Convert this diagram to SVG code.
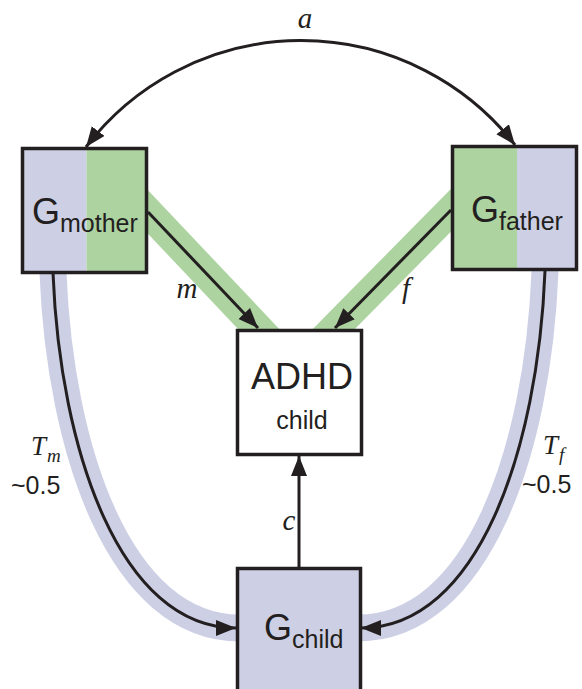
<svg xmlns="http://www.w3.org/2000/svg" width="582" height="689" viewBox="0 0 582 689">
<style>
.box{stroke:#231F20;stroke-width:3.5}
.conn{fill:none;stroke:#231F20;stroke-width:3}
.gband{fill:none;stroke:#ADD3A0;stroke-width:30}
.bband{fill:none;stroke:#CDD0E5;stroke-width:27}
.big{font-family:"Liberation Sans",Arial,sans-serif;font-size:36px;fill:#231F20}
.sub{font-family:"Liberation Sans",Arial,sans-serif;font-size:25px;fill:#231F20}
.it{font-family:"Liberation Serif","Times New Roman",serif;font-style:italic;fill:#231F20}
</style>
<defs>
<marker id="ah" markerUnits="userSpaceOnUse" markerWidth="22" markerHeight="18" refX="20" refY="8" orient="auto-start-reverse">
<path d="M0,0 L20,8 L0,16 z" fill="#231F20"/>
</marker>
</defs>
<g id="bands">
<path class="gband" d="M130,193 L270,341"/>
<path class="gband" d="M465,196 L323,340"/>
<path class="bband" d="M53,262 L53,273 C60,450 120,628 240,628"/>
<path class="bband" d="M545,260 L545,271 C538,450 478,628 358,628"/>
</g>
<g id="connectors">
<path class="conn" d="M86,147 A271,271 0 0 1 515,145" marker-start="url(#ah)" marker-end="url(#ah)"/>
<path class="conn" d="M148,212 L258,328" marker-end="url(#ah)"/>
<path class="conn" d="M451,210 L335,328" marker-end="url(#ah)"/>
<path class="conn" d="M53,273 C60,450 120,628 236,628" marker-end="url(#ah)"/>
<path class="conn" d="M545,271 C538,450 478,628 361,628" marker-end="url(#ah)"/>
<path class="conn" d="M299,567 L299,456" marker-end="url(#ah)"/>
<text class="it" x="305" y="28" font-size="29" text-anchor="middle">a</text>
<text class="it" x="187" y="298" font-size="29" text-anchor="middle">m</text>
<text class="it" x="406" y="298" font-size="29" text-anchor="middle">f</text>
<text class="it" x="289" y="530" font-size="29" text-anchor="middle">c</text>
<text class="it" x="31" y="455" font-size="27">T<tspan font-size="19" dx="1" dy="7">m</tspan></text>
<text class="sub" x="11" y="494" font-size="29">~0.5</text>
<text class="it" x="543" y="454" font-size="27">T<tspan font-size="19" dx="1" dy="7">f</tspan></text>
<text class="sub" x="522" y="493" font-size="29">~0.5</text>
</g>
<g id="mother">
<rect x="22.5" y="148.5" width="64" height="124" fill="#CDD0E5"/>
<rect x="86.5" y="148.5" width="60" height="124" fill="#ADD3A0"/>
<rect class="box" x="22.5" y="148.5" width="124" height="124" fill="none"/>
<text class="big" x="32" y="224">G<tspan class="sub" dy="8">mother</tspan></text>
</g>
<g id="father">
<rect x="452.5" y="146.5" width="64.5" height="123" fill="#ADD3A0"/>
<rect x="517" y="146.5" width="59.5" height="123" fill="#CDD0E5"/>
<rect class="box" x="452.5" y="146.5" width="124" height="123" fill="none"/>
<text class="big" x="471" y="222">G<tspan class="sub" dy="8">father</tspan></text>
</g>
<g id="adhd">
<rect class="box" x="237.5" y="330.5" width="124" height="124" fill="#FFFFFF"/>
<text class="big" x="302" y="389" text-anchor="middle">ADHD</text>
<text class="sub" x="302" y="429" text-anchor="middle">child</text>
</g>
<g id="gchild">
<rect class="box" x="237.5" y="568.5" width="123" height="130" fill="#CDD0E5"/>
<text class="big" x="264" y="640">G<tspan class="sub" dy="8">child</tspan></text>
</g>
</svg>
